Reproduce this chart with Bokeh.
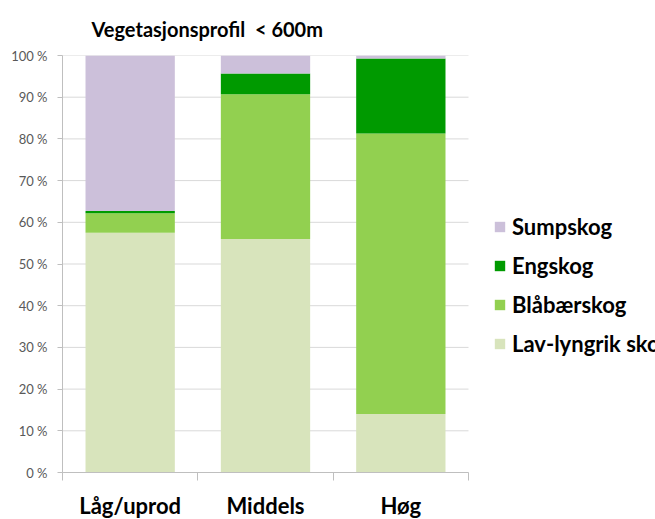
from bokeh.plotting import figure
from bokeh.models import FixedTicker, Legend, LegendItem, ColumnDataSource, Title
from bokeh.embed import file_html
from bokeh.resources import INLINE

categories = ["Låg/uprod", "Middels", "Høg"]
series = ["Lav-lyngrik skog", "Blåbærskog", "Engskog", "Sumpskog"]
lav = [0.575, 0.56, 0.14]
blabaer = [0.047, 0.347, 0.673]
eng = [0.005, 0.05, 0.18]
sump = [0.373, 0.043, 0.007]
colors = ["#D8E4BC", "#92D050", "#009A00", "#CCC0DA"]
y_ticks = [0, 0.1, 0.2, 0.3, 0.4, 0.5, 0.6, 0.7, 0.8, 0.9, 1.0]
y_tick_labels = ["0 %", "10 %", "20 %", "30 %", "40 %", "50 %", "60 %", "70 %", "80 %", "90 %", "100 %"]

FONT = "Lato"

n = len(categories)
xs = [i + 0.5 for i in range(n)]
src = ColumnDataSource(dict(x=xs, lav=lav, bla=blabaer, eng=eng, sump=sump))

# the plotting area for the bars is 406px wide; the frame continues to the right edge to host the legend
BAR_AREA = 406
FRAME_W = 593
x_end = n * FRAME_W / BAR_AREA

p = figure(frame_width=FRAME_W, frame_height=417, x_range=(0, x_end), y_range=(0, 1),
           output_backend="svg", toolbar_location=None,
           min_border_left=62, min_border_right=0, min_border_bottom=48, min_border_top=54)
p.outline_line_color = None

# horizontal grid lines limited to the bar area
p.segment(x0=[0] * len(y_ticks), x1=[n] * len(y_ticks), y0=y_ticks, y1=y_ticks,
          line_color="#D9D9D9", line_width=1, level="underlay")

renderers = p.vbar_stack(["lav", "bla", "eng", "sump"], x="x", width=0.66, source=src,
                         color=colors, line_color=None)

p.title = Title(text="Vegetasjonsprofil\u00a0 < 600m", text_font=FONT, text_font_size="20px",
                text_font_style="bold", text_color="#000000", align="left", offset=29, standoff=29)

# y axis
yax = p.yaxis[0]
yax.ticker = FixedTicker(ticks=y_ticks, minor_ticks=[])
yax.major_label_overrides = {t: l for t, l in zip(y_ticks, y_tick_labels)}
yax.major_label_text_font = FONT
yax.major_label_text_font_size = "13px"
yax.major_label_text_color = "#595959"
yax.axis_line_color = "#BFBFBF"
yax.major_tick_line_color = "#BFBFBF"
yax.major_tick_out = 5
yax.major_tick_in = 0
yax.minor_tick_line_color = None
yax.major_label_standoff = 10

# x axis
xax = p.xaxis[0]
xax.bounds = (0, n)
xax.ticker = FixedTicker(ticks=xs, minor_ticks=list(range(n + 1)))
xax.major_label_overrides = {x: c for x, c in zip(xs, categories)}
xax.major_label_text_font = FONT
xax.major_label_text_font_size = "22px"
xax.major_label_text_font_style = "bold"
xax.major_label_text_color = "#000000"
xax.axis_line_color = "#BFBFBF"
xax.major_tick_line_color = None
xax.major_tick_out = 0
xax.major_tick_in = 0
xax.minor_tick_line_color = "#BFBFBF"
xax.minor_tick_out = 8
xax.minor_tick_in = 0
xax.major_label_standoff = 11

p.xgrid.grid_line_color = None
p.ygrid.grid_line_color = None

items = [LegendItem(label=series[i], renderers=[renderers[i]]) for i in reversed(range(len(series)))]
legend = Legend(items=items, location=(431, 115), padding=0, margin=0,
                border_line_color=None, background_fill_alpha=0,
                label_text_font=FONT, label_text_font_size="22px", label_text_font_style="bold",
                label_text_color="#000000",
                glyph_width=13, glyph_height=13, label_height=24, spacing=12, label_standoff=6)
p.add_layout(legend, "center")

open("out.html", "w").write(file_html(p, INLINE))
